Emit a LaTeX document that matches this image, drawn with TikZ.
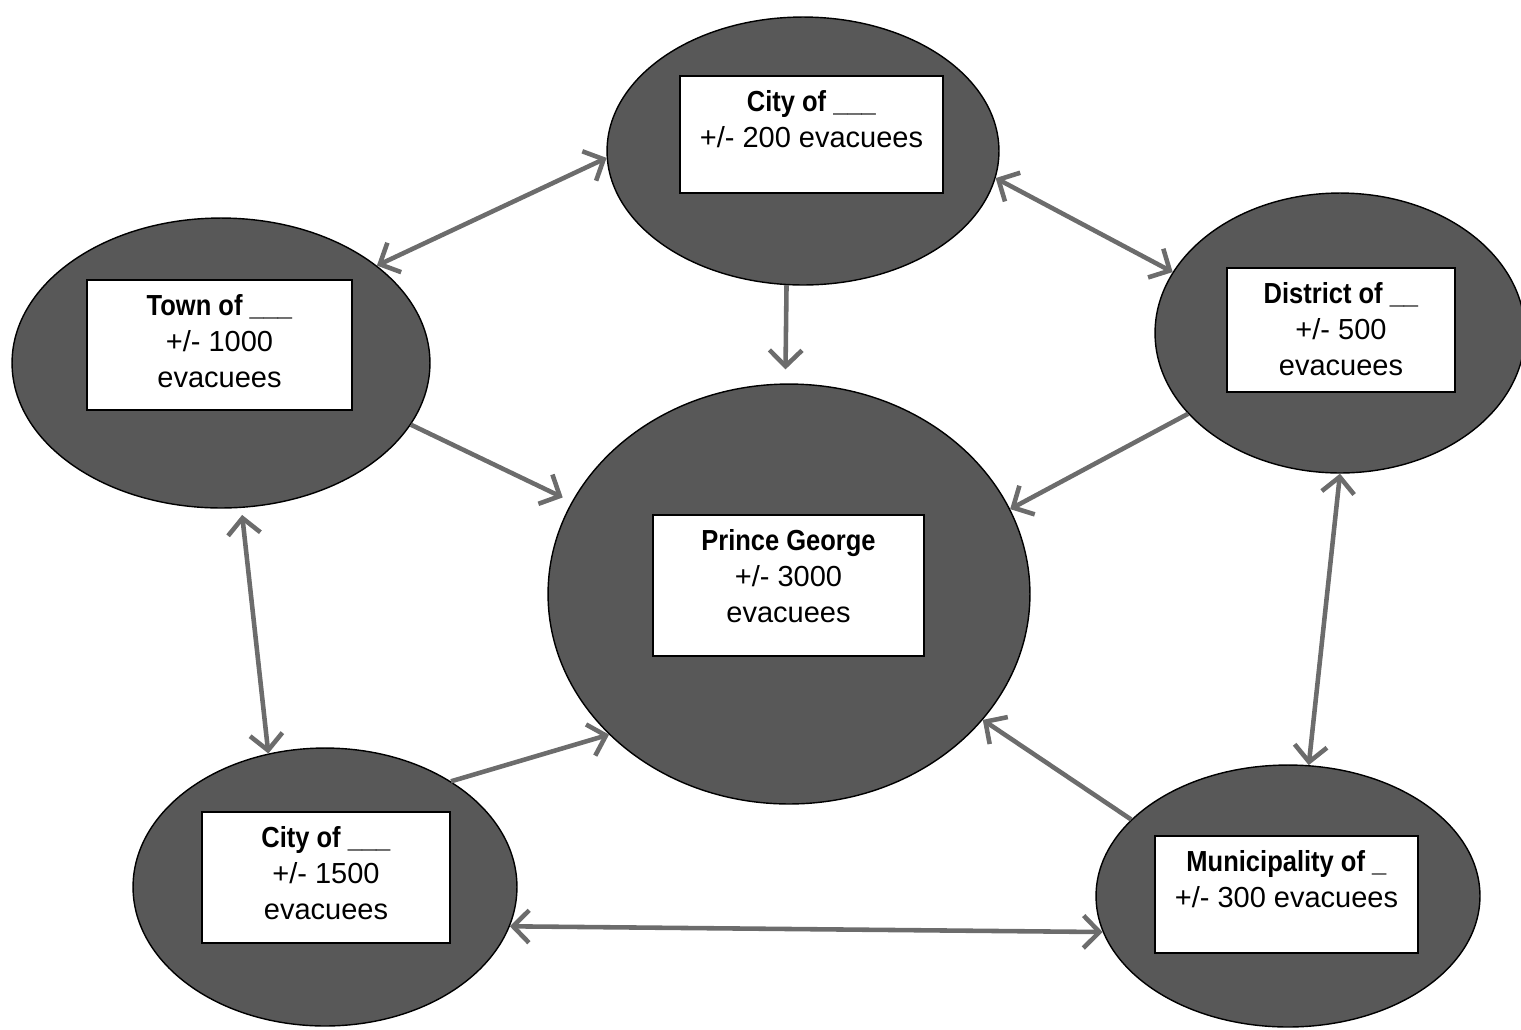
\documentclass[tikz,border=0pt]{standalone}
\usepackage{fontspec}
\setmainfont[BoldFeatures={FakeStretch=0.88}]{Liberation Sans}
\definecolor{blobgray}{RGB}{88,88,88}
\definecolor{linkgray}{RGB}{108,108,108}
\usetikzlibrary{arrows.meta, shapes.geometric}

\newcommand{\tagtext}[3]{\parbox[c][#2][t]{#1}{\centering\rule{0pt}{0.7cm}#3}}

\begin{document}
\begin{tikzpicture}[
    x=0.02cm, y=-0.02cm,
    blob/.style={ellipse, fill=blobgray, draw=black, line width=0.8pt, inner sep=0pt},
    tag/.style={draw=black, fill=white, line width=0.8pt, inner sep=0pt,
      font=\fontsize{16.5}{20.5}\selectfont},
    link/.style={draw=linkgray, line width=2.6pt,
      -{Straight Barb[length=3.2mm, width=6.5mm]}},
    twoway/.style={link,
      {Straight Barb[length=3.2mm, width=6.5mm]}-{Straight Barb[length=3.2mm, width=6.5mm]}},
  ]
    \useasboundingbox (0,0) rectangle (1521,1029);

    % outer communities
    \node[blob, minimum width=7.84cm, minimum height=5.36cm] (top) at (803,151) {};
    \node[tag] (topTag) at (811.5,134.5)
      {\tagtext{5.26cm}{2.34cm}{\textbf{City of \_\_\_}\\+/- 200 evacuees}};

    \node[blob, minimum width=8.36cm, minimum height=5.8cm] (town) at (221,363) {};
    \node[tag] (townTag) at (219.5,345)
      {\tagtext{5.3cm}{2.6cm}{\textbf{Town of \_\_\_}\\+/- 1000\\evacuees}};

    \node[blob, minimum width=7.4cm, minimum height=5.6cm] (dist) at (1340,333) {};
    \node[tag] (distTag) at (1341,330)
      {\tagtext{4.56cm}{2.48cm}{\textbf{District of \_\_}\\+/- 500\\evacuees}};

    \node[blob, minimum width=7.68cm, minimum height=5.56cm] (cityB) at (325,887) {};
    \node[tag] (cityBTag) at (326,877.5)
      {\tagtext{4.96cm}{2.62cm}{\textbf{City of \_\_\_}\\+/- 1500\\evacuees}};

    \node[blob, minimum width=7.68cm, minimum height=5.24cm] (munic) at (1288,896) {};
    \node[tag] (municTag) at (1286.5,894.5)
      {\tagtext{5.26cm}{2.34cm}{\textbf{Municipality of \_}\\+/- 300 evacuees}};

    % host city
    \node[blob, minimum width=9.64cm, minimum height=8.4cm] (centre) at (789,594) {};
    \node[tag] (centreTag) at (788.5,585.5)
      {\tagtext{5.42cm}{2.82cm}{\textbf{Prince George}\\+/- 3000\\evacuees}};

    % links
    \draw[twoway] (town.32) -- (top.182);
    \draw[twoway] (top.352) -- (dist.160);
    \draw[link, shorten >=0.28cm] (top.263) -- (centre.91);
    \draw[link, shorten >=0.2cm] (town.342) -- (centre.157);
    \draw[link] (dist.208) -- (centre.21);
    \draw[twoway, shorten <=0.14cm] (town.278) -- (cityB.113);
    \draw[twoway] (dist.270) -- (munic.81);
    \draw[link] (cityB.40) -- (centre.218);
    \draw[link] (munic.154) -- (centre.327);
    \draw[twoway] (cityB.348) -- (munic.191);
  \end{tikzpicture}
\end{document}
